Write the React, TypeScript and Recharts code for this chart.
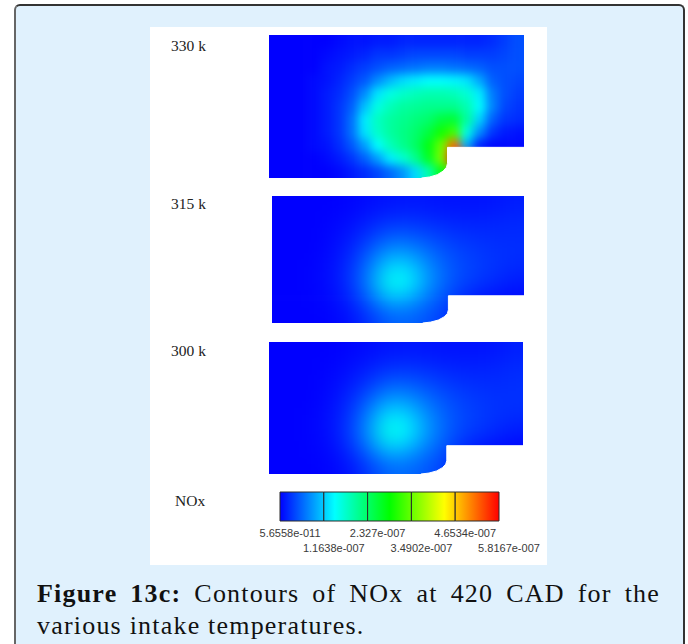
import React from 'react';
import { Bar, BarChart, Area, AreaChart, ComposedChart, Scatter, XAxis, YAxis } from 'recharts';

// NOx fields in units of 1e-7, rows run top to bottom of the chamber
const field330 = [
  [0, 0, 0, 0, 0, 0.05, 0.1, 0.1, 0.15, 0.15, 0.2, 0.2, 0.2, 0.2, 0.2, 0.2, 0.2, 0.25, 0.35, 0.45],
  [0, 0, 0, 0, 0.05, 0.1, 0.15, 0.2, 0.3, 0.3, 0.35, 0.4, 0.4, 0.4, 0.4, 0.35, 0.35, 0.35, 0.4, 0.45],
  [0, 0, 0, 0, 0.1, 0.15, 0.25, 0.35, 0.45, 0.55, 0.6, 0.65, 0.7, 0.7, 0.65, 0.6, 0.55, 0.45, 0.45, 0.45],
  [0, 0, 0, 0.05, 0.1, 0.2, 0.35, 0.5, 0.8, 1.05, 1.25, 1.35, 1.45, 1.45, 1.4, 1.3, 0.95, 0.55, 0.45, 0.4],
  [0, 0, 0, 0.05, 0.15, 0.25, 0.45, 0.8, 1.3, 1.6, 1.75, 1.85, 1.9, 1.9, 1.85, 1.7, 1.35, 0.7, 0.45, 0.35],
  [0, 0, 0, 0.05, 0.15, 0.3, 0.55, 1.1, 1.6, 1.85, 2.0, 2.05, 2.1, 2.1, 2.1, 1.9, 1.45, 0.75, 0.4, 0.3],
  [0, 0, 0, 0.05, 0.15, 0.3, 0.65, 1.35, 1.8, 2.0, 2.1, 2.2, 2.3, 2.55, 2.6, 2.0, 1.2, 0.55, 0.3, 0.25],
  [0, 0, 0, 0.05, 0.15, 0.3, 0.65, 1.3, 1.75, 2.0, 2.15, 2.3, 2.55, 3.0, 3.3, 1.6, 0.8, 0.3, 0.15, 0.1],
  [0, 0, 0, 0.05, 0.1, 0.25, 0.5, 0.9, 1.45, 1.85, 2.1, 2.35, 2.8, 3.5, 5.2, 1.0, 0.2, 0.05, 0.05, 0.05],
  [0, 0, 0, 0, 0.05, 0.15, 0.3, 0.55, 0.9, 1.35, 1.7, 2.1, 2.7, 3.6, 5.8, 5.8, 0.4, 0.05, 0, 0],
  [0, 0, 0, 0, 0, 0.05, 0.15, 0.25, 0.4, 0.6, 0.85, 1.25, 1.9, 2.8, 3.5, 2.0, 0.2, 0, 0, 0],
];
const field315 = [
  [0, 0, 0, 0, 0.03, 0.07, 0.11, 0.12, 0.12, 0.1, 0.1, 0.1, 0.12, 0.16],
  [0, 0, 0, 0.02, 0.08, 0.17, 0.25, 0.27, 0.24, 0.2, 0.18, 0.18, 0.2, 0.22],
  [0, 0, 0, 0.05, 0.15, 0.32, 0.5, 0.5, 0.42, 0.34, 0.28, 0.25, 0.24, 0.24],
  [0, 0, 0, 0.08, 0.24, 0.55, 0.85, 0.85, 0.66, 0.48, 0.38, 0.32, 0.28, 0.26],
  [0, 0, 0.02, 0.1, 0.32, 0.75, 1.25, 1.25, 0.88, 0.58, 0.42, 0.34, 0.28, 0.22],
  [0, 0, 0.02, 0.1, 0.34, 0.85, 1.55, 1.45, 0.95, 0.6, 0.4, 0.3, 0.22, 0.15],
  [0, 0, 0.01, 0.07, 0.24, 0.62, 1.05, 1.0, 0.7, 0.45, 0.25, 0.12, 0.08, 0.05],
  [0, 0, 0, 0.03, 0.12, 0.32, 0.55, 0.58, 0.48, 0.35, 0.15, 0.05, 0.02, 0],
];
const field300 = [
  [0, 0, 0, 0, 0.03, 0.07, 0.11, 0.12, 0.12, 0.1, 0.1, 0.1, 0.12, 0.17],
  [0, 0, 0, 0.02, 0.08, 0.16, 0.25, 0.27, 0.25, 0.2, 0.18, 0.18, 0.2, 0.24],
  [0, 0, 0, 0.05, 0.14, 0.3, 0.5, 0.52, 0.44, 0.34, 0.28, 0.25, 0.24, 0.26],
  [0, 0, 0, 0.08, 0.24, 0.55, 0.88, 0.88, 0.68, 0.5, 0.38, 0.32, 0.28, 0.28],
  [0, 0, 0.02, 0.1, 0.32, 0.78, 1.3, 1.28, 0.9, 0.6, 0.42, 0.34, 0.28, 0.24],
  [0, 0, 0.02, 0.1, 0.36, 0.88, 1.6, 1.45, 0.98, 0.63, 0.4, 0.3, 0.22, 0.14],
  [0, 0, 0.01, 0.07, 0.26, 0.65, 1.1, 1.05, 0.74, 0.5, 0.26, 0.12, 0.07, 0.04],
  [0, 0, 0, 0.03, 0.12, 0.34, 0.58, 0.62, 0.52, 0.38, 0.16, 0.05, 0.02, 0],
];

// top profile of the white piston cut-out, in chamber units (100 x 56)
const cutoutProfile = [
  { x: 59.8, y: 0 },
  { x: 63, y: 0.4 },
  { x: 66, y: 1.3 },
  { x: 68.3, y: 2.7 },
  { x: 69.6, y: 4.2 },
  { x: 70, y: 5.8 },
  { x: 70, y: 12 },
  { x: 100, y: 12 },
];

const legendTicks = [5.6558e-11, 1.1638e-7, 2.327e-7, 3.4902e-7, 4.6534e-7, 5.8167e-7];
const legendLabels = ['5.6558e-011', '1.1638e-007', '2.327e-007', '3.4902e-007', '4.6534e-007', '5.8167e-007'];
const legendMax = 5.8167;

const chamberW = 100;
const chamberH = 56;

function jet(v: number) {
  const t = Math.min(1, Math.max(0, v / legendMax));
  return `hsl(${240 * (1 - t)}, 100%, 50%)`;
}

function toCells(field: number[][]) {
  const rows = field.length;
  const cols = field[0].length;
  const out: any[] = [];
  field.forEach((row, r) => {
    row.forEach((value, c) => {
      out.push({
        x: ((c + 0.5) / cols) * chamberW,
        y: (1 - (r + 0.5) / rows) * chamberH,
        value,
        r,
        c,
      });
    });
  });
  return out;
}

function Chamber({ field, left, top, width, height, blur }: any) {
  const rows = field.length;
  const cols = field[0].length;
  const cw = width / cols;
  const ch = height / rows;
  const pad = 24;
  const cellShape = (p: any) => {
    const { cx, cy, payload } = p;
    const x0 = cx - cw / 2 - (payload.c === 0 ? pad : 0);
    const x1 = cx + cw / 2 + (payload.c === cols - 1 ? pad : 0);
    const y0 = cy - ch / 2 - (payload.r === 0 ? pad : 0);
    const y1 = cy + ch / 2 + (payload.r === rows - 1 ? pad : 0);
    return <rect x={x0} y={y0} width={x1 - x0 + 0.6} height={y1 - y0 + 0.6} fill={jet(payload.value)} />;
  };
  return (
    <div className={`blur-${blur}`} style={{ position: 'absolute', left, top, width, height }}>
      <div style={{ position: 'absolute', left: 0, top: 0 }}>
        <ComposedChart width={width} height={height} margin={{ top: 0, right: 0, bottom: 0, left: 0 }}>
          <XAxis type="number" dataKey="x" domain={[0, chamberW]} hide />
          <YAxis type="number" dataKey="y" domain={[0, chamberH]} hide />
          <Scatter data={toCells(field)} dataKey="y" shape={cellShape} isAnimationActive={false} />
        </ComposedChart>
      </div>
      <div style={{ position: 'absolute', left: 0, top: 0 }}>
        <AreaChart width={width} height={height} data={cutoutProfile} margin={{ top: 0, right: 0, bottom: 0, left: 0 }}>
          <XAxis type="number" dataKey="x" domain={[0, chamberW]} hide />
          <YAxis type="number" domain={[0, chamberH]} hide />
          <Area
            dataKey="y"
            type="linear"
            baseValue={0}
            fill="#ffffff"
            fillOpacity={1}
            stroke="#ffffff"
            strokeWidth={1}
            dot={false}
            activeDot={false}
            isAnimationActive={false}
          />
        </AreaChart>
      </div>
    </div>
  );
}

const legendData = [
  {
    name: 'NOx',
    s1: legendTicks[1],
    s2: legendTicks[2] - legendTicks[1],
    s3: legendTicks[3] - legendTicks[2],
    s4: legendTicks[4] - legendTicks[3],
    s5: legendTicks[5] - legendTicks[4],
  },
];
const legendKeys = ['s1', 's2', 's3', 's4', 's5'];

function LegendTick({ x, y, index }: any) {
  return (
    <text x={x + 10} y={y + (index % 2 === 0 ? 8 : 23)} textAnchor="middle" fontSize={11} fontFamily="'Liberation Sans', Arial" fill="#3a3a3a">
      {legendLabels[index]}
    </text>
  );
}

function LegendBar() {
  return (
    <div style={{ position: 'absolute', left: 250, top: 491 }}>
      <BarChart
        width={297}
        height={66}
        data={legendData}
        layout="vertical"
        barCategoryGap={0}
        margin={{ top: 1, right: 48, bottom: 0, left: 30 }}
      >
        <defs>
          {legendKeys.map((k, i) => (
            <linearGradient key={k} id={`seg-${k}`} x1="0" y1="0" x2="1" y2="0">
              {[0, 0.25, 0.5, 0.75, 1].map((f) => (
                <stop key={f} offset={f} stopColor={jet((legendMax * (i + f)) / 5)} />
              ))}
            </linearGradient>
          ))}
        </defs>
        <XAxis
          type="number"
          domain={[0, legendTicks[5]]}
          ticks={legendTicks}
          interval={0}
          height={36}
          axisLine={false}
          tickLine={false}
          tick={<LegendTick />}
        />
        <YAxis type="category" dataKey="name" hide />
        {legendKeys.map((k) => (
          <Bar key={k} dataKey={k} stackId="nox" fill={`url(#seg-${k})`} stroke="#2a2a2a" strokeWidth={1} isAnimationActive={false} />
        ))}
      </BarChart>
    </div>
  );
}

const serif = "'Liberation Serif', 'Times New Roman', serif";

function Label({ left, top, children }: any) {
  return (
    <div style={{ position: 'absolute', left, top, fontFamily: serif, fontSize: 15.5, lineHeight: '18px', color: '#222', whiteSpace: 'nowrap' }}>
      {children}
    </div>
  );
}

export default function App() {
  return (
    <div style={{ position: 'fixed', left: 0, top: 0, width: 688, height: 644, overflow: 'hidden', background: '#ffffff' }}>
      <style>{`
        .blur-4 .recharts-scatter { filter: blur(5px); }
        .blur-9 .recharts-scatter { filter: blur(10px); }
      `}</style>
      <div
        style={{
          position: 'absolute',
          left: 14,
          top: 4,
          width: 667,
          height: 660,
          background: '#e0f1fd',
          borderLeft: '2px solid #666',
          borderRight: '2px solid #333',
          borderTop: '2px solid #333',
          borderRadius: 6,
        }}
      />
      <div style={{ position: 'absolute', left: 150, top: 27, width: 397, height: 538, background: '#ffffff' }} />
      <Chamber field={field330} left={269} top={35} width={255} height={143} blur={4} />
      <Chamber field={field315} left={272} top={196} width={252} height={127} blur={9} />
      <Chamber field={field300} left={269} top={342} width={254} height={132} blur={9} />
      <Label left={171} top={37}>330 k</Label>
      <Label left={171} top={195}>315 k</Label>
      <Label left={171} top={342}>300 k</Label>
      <Label left={175} top={492}>NOx</Label>
      <LegendBar />
      <div
        style={{
          position: 'absolute',
          left: 37,
          top: 578,
          width: 623,
          fontFamily: serif,
          fontSize: 26,
          letterSpacing: 1.2,
          lineHeight: '32px',
          color: '#111',
          whiteSpace: 'normal',
        }}
      >
        <div style={{ textAlign: 'justify', textAlignLast: 'justify' }}>
          <b>Figure 13c:</b> Contours of NOx at 420 CAD for the
        </div>
        <div>various intake temperatures.</div>
      </div>
    </div>
  );
}
